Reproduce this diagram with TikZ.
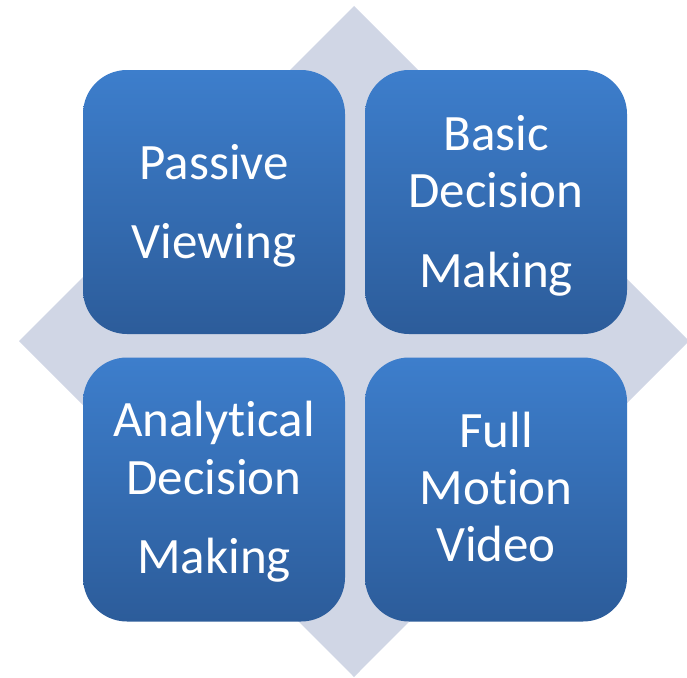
\documentclass[tikz,border=0pt]{standalone}
\usepackage{fontspec}
\setmainfont{Carlito}[Ligatures={NoCommon,NoRare}]
\definecolor{diam}{RGB}{208,214,229}
\definecolor{boxtop}{RGB}{61,126,204}
\definecolor{boxbot}{RGB}{44,92,154}
\begin{document}
\begin{tikzpicture}[x=1pt,y=-1pt,
  quad/.style={rounded corners=44pt, minimum width=262pt, minimum height=264pt, inner sep=0pt,
    top color=boxtop, bottom color=boxbot, draw=none},
  lbl/.style={anchor=base, text=white, inner sep=0pt, font=\fontsize{51}{51}\selectfont}]
\useasboundingbox (0,0) rectangle (687,677);
\clip (0,0) rectangle (687,677);
\fill[diam] (354,6) -- (689,341) -- (354,677) -- (19,341) -- cycle;
\node[quad] (pv) at (214,202) {};
\node[quad] (bd) at (496,202) {};
\node[quad] (ad) at (214,489.5) {};
\node[quad] (fm) at (496,489.5) {};
\node[lbl] (pv1) at (214,179) {Passive};
\node[lbl] (pv2) at (214,258) {Viewing};
\node[lbl] (bd1) at (496,150) {Basic};
\node[lbl] (bd2) at (496,207) {Decision};
\node[lbl] (bd3) at (496,287) {Making};
\node[lbl] (ad1) at (214,436) {Analytical};
\node[lbl] (ad2) at (214,494) {Decision};
\node[lbl] (ad3) at (214,573) {Making};
\node[lbl] (fm1) at (496,447) {Full};
\node[lbl] (fm2) at (496,504) {Motion};
\node[lbl] (fm3) at (496,561) {Video};
\end{tikzpicture}
\end{document}
